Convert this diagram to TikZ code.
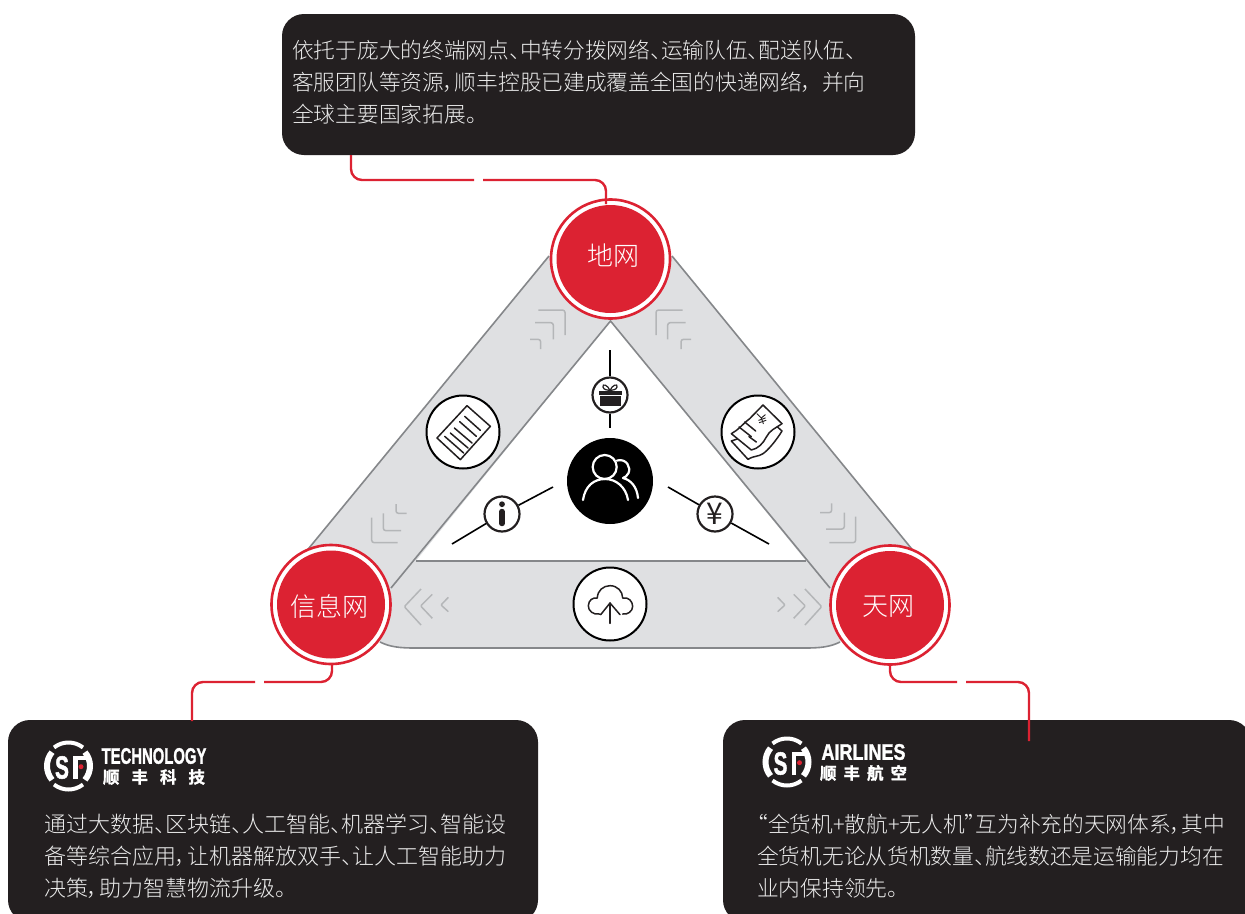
\documentclass[tikz,border=0pt]{standalone}
\usepackage{fontspec}
\setmainfont{Liberation Sans}
\newfontfamily\cjk[RawFeature=+palt]{Noto Sans CJK SC Light}
\newfontfamily\cjkr{Noto Sans CJK SC}
\newfontfamily\cjkb[FakeBold=1.5]{Noto Sans CJK SC Bold}
\newfontfamily\heavy[FakeBold=1.6]{Liberation Sans Bold}
\definecolor{sfred}{HTML}{DC2232}
\definecolor{panel}{HTML}{231F20}
\definecolor{band}{HTML}{DFE0E2}
\definecolor{bandline}{HTML}{85878A}
\definecolor{chev}{HTML}{B4B6B8}
\tikzset{
 x=1pt,y=-1pt,
 panelbox/.style={rectangle,rounded corners=22pt,fill=panel,inner sep=0pt},
 para/.style={anchor=north west,inner sep=0pt,align=left,text=white!92!black,font=\cjk\fontsize{21.7}{31.9}\selectfont},
 hub/.style={circle,draw=sfred,line width=2.6pt,fill=white,minimum size=119pt,inner sep=0pt},
 hublabel/.style={text=white,inner sep=0pt,font=\cjk\fontsize{26}{30}\selectfont},
 bigicon/.style={circle,draw=black,line width=2pt,fill=white,minimum size=73pt,inner sep=0pt},
 smallicon/.style={circle,draw=panel,line width=2.2pt,fill=white,minimum size=35pt,inner sep=0pt},
 wire/.style={draw=sfred,line width=2.4pt,rounded corners=11pt},
 spoke/.style={draw=black,line width=1.6pt},
 chevron/.style={draw=chev,line width=1.5pt,rounded corners=2.5pt},
 glyph/.style={draw=panel,line width=1.5pt,line join=round,line cap=round},
 brand/.style={text=white,inner sep=0pt},
 edgeline/.style={bandline,line width=1.6pt},
}
% SF logo: #1 = centre
\newcommand{\sflogo}[1]{%
 \begin{scope}[shift={(#1)}]
 \begin{scope}[y=1pt]
  \draw[white,line width=6pt] (140:21.5) arc[start angle=140,end angle=220,radius=21.5];
  \draw[white,line width=6pt] (-40:21.5) arc[start angle=-40,end angle=40,radius=21.5];
  \draw[white,line width=4pt] (52:23.5) arc[start angle=52,end angle=128,radius=23.5];
  \draw[white,line width=4pt] (-52:23.5) arc[start angle=-52,end angle=-128,radius=23.5];
 \end{scope}
  \node[brand,font=\heavy\fontsize{32}{32}\selectfont,xscale=.65] at (-6.5,1.5) {S};
  \fill[white] (4.5,-10.5) rectangle (18.5,-6.5);
  \fill[white] (4.5,-10.5) rectangle (9,13);
  \fill[sfred] (12.5,.7) circle (2.5);
 \end{scope}}
\begin{document}
\begin{tikzpicture}
\useasboundingbox (0,0) rectangle (1245,913);
\fill[white] (0,0) rectangle (1245,913);
% panels
\node[panelbox,minimum width=633pt,minimum height=141pt] (topbox) at (598.5,84.5) {};
\node[panelbox,minimum width=530pt,minimum height=202pt] (leftbox) at (273,821) {};
\node[panelbox,minimum width=528pt,minimum height=202pt] (rightbox) at (987,821) {};
\node[para] (toptext) at (292,40) {依托于庞大的终端网点、中转分拨网络、运输队伍、配送队伍、\\客服团队等资源，顺丰控股已建成覆盖全国的快递网络，\hspace{9pt}并向\\全球主要国家拓展。};
\node[para,font=\cjk\fontsize{22}{31.9}\selectfont] (lefttext) at (44,814) {通过大数据、区块链、人工智能、机器学习、智能设\\备等综合应用，让机器解放双手、让人工智能助力\\决策，助力智慧物流升级。};
\node[para] (righttext) at (757,814) {“全货机+散航+无人机”互为补充的天网体系，其中\\全货机无论从货机数量、航线数还是运输能力均在\\业内保持领先。};
% band
\fill[band] (549,256) -- (300,559) -- (380,642) .. controls (390,647) and (400,648) .. (415,648) -- (805,648) .. controls (820,648) and (830,647) .. (840,642) -- (920,559) -- (672,256) -- cycle;
\draw[edgeline] (549,256) -- (300,559);
\draw[edgeline] (672,256) -- (920,559);
\draw[edgeline] (380,642) .. controls (390,647) and (400,648) .. (415,648) -- (805,648) .. controls (820,648) and (830,647) .. (840,642);
\fill[white] (610.5,321) -- (416,561) -- (806,561) -- cycle;
\draw[edgeline] (391,588) -- (610.5,321) -- (830,588);
\draw[edgeline] (416,561) -- (806,561);
% chevrons
\begin{scope}[shift={(260,480)},scale=1/3]
 \draw[chevron,rounded corners=1pt] (483,327) -- (433,380) -- (483,435);
 \draw[chevron,rounded corners=1pt] (517,343) -- (482,378) -- (517,415);
 \draw[chevron,rounded corners=1pt] (565,352) -- (543,375) -- (565,395);
 \draw[chevron] (335,113) -- (335,188) -- (413,188);
 \draw[chevron] (370,100) -- (370,152) -- (423,152);
 \draw[chevron] (408,72) -- (408,100) -- (440,100);
\end{scope}
\begin{scope}[shift={(0,480)},scale=1/3]
 \draw[chevron,rounded corners=1pt] (2415,327) -- (2465,380) -- (2415,435);
 \draw[chevron,rounded corners=1pt] (2381,343) -- (2416,378) -- (2381,415);
 \draw[chevron,rounded corners=1pt] (2333,352) -- (2355,375) -- (2333,395);
\end{scope}
\begin{scope}[shift={(700,380)},scale=1/3]
 \draw[chevron] (467,410) -- (467,488) -- (388,488);
 \draw[chevron] (433,398) -- (433,447) -- (378,447);
 \draw[chevron] (395,370) -- (395,398) -- (360,398);
\end{scope}
\begin{scope}[shift={(280,150)},scale=1/3]
 \draw[chevron] (775,480) -- (855,480) -- (855,555);
 \draw[chevron] (765,518) -- (820,518) -- (820,568);
 \draw[chevron] (750,568) -- (782,568) -- (782,597);
 \draw[chevron] (1208,480) -- (1128,480) -- (1128,555);
 \draw[chevron] (1217,518) -- (1163,518) -- (1163,568);
 \draw[chevron] (1233,568) -- (1203,568) -- (1203,597);
\end{scope}
% hubs
\node[hub] (land) at (610.5,259) {};
\node[hub] (info) at (331,604.5) {};
\node[hub] (sky) at (890,605) {};
\fill[sfred] (land) circle (54);
\fill[sfred] (info) circle (54);
\fill[sfred] (sky) circle (54);
\node[hublabel] (landt) at (613,256) {地网};
\node[hublabel] (infot) at (329.5,607) {信息网};
\node[hublabel] (skyt) at (888,606) {天网};
% centre
\node[circle,fill=black,minimum size=86pt,inner sep=0pt] (people) at (610,481) {};
\node[smallicon] (gift) at (610,395) {};
\node[smallicon] (infoi) at (502,514) {};
\node[smallicon,font=\cjkr\fontsize{30}{30}\selectfont,text=panel] (yen) at (715,514) {¥};
\coordinate (g1) at (610,350);
\coordinate (g2) at (610,428);
\coordinate (i1) at (452,544);
\coordinate (i2) at (553,487);
\coordinate (y1) at (668,487);
\coordinate (y2) at (769,544);
\draw[spoke] (g1) -- (gift);
\draw[spoke] (gift) -- (g2);
\draw[spoke] (i1) -- (infoi);
\draw[spoke] (infoi) -- (i2);
\draw[spoke] (y1) -- (yen);
\draw[spoke] (yen) -- (y2);
% people glyph
\begin{scope}[shift={(people.center)},white,line width=2.2pt,line cap=round]
 \draw (-5.3,-14) circle (12);
 \draw (-27,19) .. controls (-25,5) and (-16,-2) .. (-5,-2) .. controls (6,-2) and (16,6) .. (18,19);
 \draw (7,-20.5) .. controls (17,-23) and (21,-13) .. (18.5,-8) .. controls (17,-5) and (15,-3.5) .. (13,-3);
 \draw (13,-3) .. controls (21,-1) and (27,6) .. (28,17);
\end{scope}
% gift glyph
\begin{scope}[shift={(gift.center)}]
 \fill[panel] (-11,-4.5) rectangle (11.5,-.5);
 \fill[panel] (-10,1) rectangle (10.5,11);
 \draw[panel,line width=1.2pt] (0,-4.5) .. controls (-2,-10) and (-8,-12) .. (-7,-8) .. controls (-6.5,-5) and (-2,-5) .. (0,-4.5) .. controls (2,-10) and (8,-12) .. (7,-8) .. controls (6.5,-5) and (2,-5) .. (0,-4.5);
\end{scope}
% info glyph
\begin{scope}[shift={(infoi.center)}]
 \fill[panel] (0,-9.8) circle (2.9);
 \draw[panel,line width=5.4pt,line cap=round] (0,-2.5) -- (0,9.5);
\end{scope}
% document icon
\node[bigicon] (doc) at (463,432) {};
\begin{scope}[shift={(doc.center)},scale=1/3]
 \draw[glyph] (12,-79) -- (82,-17) -- (-8,83) -- (-78,18) -- cycle;
 \draw[glyph] (5,-47) -- (52,-5);
 \draw[glyph] (-10,-31) -- (40,13);
 \draw[glyph] (-26,-12) -- (27,33);
 \draw[glyph] (-38,3) -- (15,48);
 \draw[glyph] (-55,13) -- (2,63);
\end{scope}
% bills icon
\node[bigicon] (bills) at (758,432) {};
\begin{scope}[shift={(bills.center)},scale=1/3]
 \draw[glyph,fill=white] (-80,27) -- (-30,82) .. controls (-10,70) and (0,75) .. (15,65) .. controls (30,55) and (55,25) .. (72,-3) -- (55,-18) -- cycle;
 \draw[glyph,fill=white] (15,-81) -- (72,-25) .. controls (50,-10) and (35,-5) .. (25,15) .. controls (15,35) and (0,50) .. (-20,54) -- (-80,5) .. controls (-60,-5) and (-45,-25) .. (-25,-40) -- cycle;
 \draw[glyph] (-40,-30) -- (-7,-3);
 \draw[glyph] (-57,-15) -- (-20,14);
 \draw[glyph] (-27,14) -- (-5,30);
 \draw[glyph,line width=.9pt] (-3,-55) -- (10,-42) -- (22,-52);
 \draw[glyph,line width=.9pt] (10,-42) -- (16,-25);
 \draw[glyph,line width=.9pt] (2,-35) -- (22,-42);
 \draw[glyph,line width=.9pt] (4,-28) -- (24,-35);
\end{scope}
% cloud icon
\node[bigicon] (cloud) at (610,604) {};
\begin{scope}[shift={(cloud.center)},scale=1/3]
 \draw[glyph] (-30,30) .. controls (-50,34) and (-66,20) .. (-65,5) .. controls (-64,-12) and (-52,-20) .. (-38,-18) .. controls (-38,-40) and (-20,-55) .. (0,-55) .. controls (22,-55) and (38,-38) .. (38,-18) .. controls (55,-22) and (68,-8) .. (68,7) .. controls (68,22) and (52,33) .. (38,30);
 \draw[glyph] (0,58) -- (0,-3);
 \draw[glyph] (-28,32) -- (0,-3) -- (30,32);
\end{scope}
% wires
\coordinate (t0) at (351,155);
\coordinate (t1) at (474,180);
\coordinate (t2) at (483,180);
\draw[wire] (t0) -- (351,180) -- (t1);
\draw[wire] (t2) -- (606,180) -- (606,204);
\coordinate (l0) at (192,721);
\coordinate (l1) at (255,682);
\coordinate (l2) at (264,682);
\draw[wire] (l0) -- (192,682) -- (l1);
\draw[wire] (l2) -- (332,682) -- (332,664);
\coordinate (r1) at (957,682);
\coordinate (r2) at (966,682);
\coordinate (r3) at (1029,741);
\draw[wire] (890,664) -- (890,682) -- (r1);
\draw[wire] (r2) -- (1029,682) -- (r3);
% logos
\sflogo{68.5,766}
\sflogo{787,762}
\node[brand,font=\heavy\fontsize{22.5}{22}\selectfont,xscale=.66] (tech) at (154,756) {TECHNOLOGY};
\node[brand,font=\cjkb\fontsize{16.5}{16}\selectfont] (techcn) at (154,777) {顺\hspace{12pt}丰\hspace{12pt}科\hspace{12pt}技};
\node[brand,font=\heavy\fontsize{22.5}{22}\selectfont,xscale=.8] (air) at (863.5,752) {AIRLINES};
\node[brand,font=\cjkb\fontsize{16.5}{16}\selectfont] (aircn) at (863.5,773) {顺\hspace{7pt}丰\hspace{7pt}航\hspace{7pt}空};
\end{tikzpicture}
\end{document}
